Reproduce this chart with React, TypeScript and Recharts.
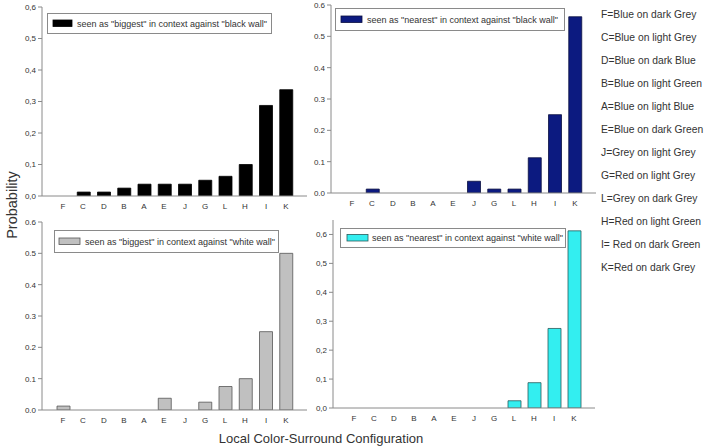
import React from 'react';
import { BarChart, Bar, XAxis, YAxis } from 'recharts';

const categories = ['F', 'C', 'D', 'B', 'A', 'E', 'J', 'G', 'L', 'H', 'I', 'K'];
const biggestBlackWall = [0, 0.0125, 0.0125, 0.025, 0.0375, 0.0375, 0.0375, 0.05, 0.0625, 0.1, 0.2875, 0.3375];
const nearestBlackWall = [0, 0.0125, 0, 0, 0, 0, 0.0375, 0.0125, 0.0125, 0.1125, 0.25, 0.5625];
const biggestWhiteWall = [0.0125, 0, 0, 0, 0, 0.0375, 0, 0.025, 0.075, 0.1, 0.25, 0.5];
const nearestWhiteWall = [0, 0, 0, 0, 0, 0, 0, 0, 0.025, 0.0875, 0.275, 0.6125];
const yTicks = [0, 0.1, 0.2, 0.3, 0.4, 0.5, 0.6];
const keyLabels = [
  'F=Blue on dark Grey',
  'C=Blue on light Grey',
  'D=Blue on dark Blue',
  'B=Blue on light Green',
  'A=Blue on light Blue',
  'E=Blue on dark Green',
  'J=Grey on light Grey',
  'G=Red on light Grey',
  'L=Grey on dark Grey',
  'H=Red on light Green',
  'I= Red on dark Green',
  'K=Red on dark Grey',
];
const legendTexts = [
  'seen as "biggest" in context against "black wall"',
  'seen as "nearest" in context against "black wall"',
  'seen as "biggest" in context against "white wall"',
  'seen as "nearest" in context against "white wall"',
];
const yTitle = 'Probability';
const xTitle = 'Local Color-Surround Configuration';

const FONT = '"Liberation Sans", Arial, sans-serif';
const FRAME = '#8a8a8a';
const TXT = '#333';

function CatTick(props: any) {
  const { x, y, payload } = props;
  return (
    <text x={Math.round(x)} y={Math.round(y) + 4} textAnchor="middle" dominantBaseline="central" fontSize={8} fill={TXT} fontFamily={FONT}>
      {payload.value}
    </text>
  );
}

type PanelProps = {
  left: number; top: number; right: number; bottom: number;
  values: number[]; fill: string; stroke: string; max: number; sep: string;
};

function Panel({ left, top, right, bottom, values, fill, stroke, max, sep }: PanelProps) {
  const YW = 42, XH = 20, MT = 6, MR = 4;
  const w = right - left + YW + MR;
  const h = bottom - top + MT + XH;
  const data = categories.map((c, i) => ({ cat: c, v: values[i] }));
  const fmt = (v: number) => v.toFixed(1).replace('.', sep);
  return (
    <div style={{ position: 'absolute', left: left - YW, top: top - MT, width: w, height: h }}>
      <BarChart width={w} height={h} data={data} margin={{ top: MT, right: MR, left: 0, bottom: 0 }}>
        <XAxis
          xAxisId="b"
          dataKey="cat"
          height={XH}
          padding={{ left: 11, right: 11 }}
          interval={0}
          tickLine={false}
          tickSize={4}
          axisLine={{ stroke: FRAME }}
          tick={<CatTick />}
        />
        <XAxis
          xAxisId="t"
          dataKey="cat"
          orientation="top"
          height={0}
          tick={false}
          tickLine={false}
          axisLine={{ stroke: FRAME }}
        />
        <YAxis
          yAxisId="l"
          width={YW}
          domain={[0, max]}
          ticks={yTicks}
          allowDataOverflow
          tickFormatter={fmt}
          tickSize={4}
          axisLine={{ stroke: FRAME }}
          tickLine={{ stroke: FRAME }}
          tick={{ fontSize: 8, fill: TXT, fontFamily: FONT }}
        />
        <YAxis
          yAxisId="r"
          orientation="right"
          width={0}
          domain={[0, max]}
          tick={false}
          tickLine={false}
          axisLine={{ stroke: FRAME }}
        />
        <Bar
          xAxisId="b"
          yAxisId="l"
          dataKey="v"
          fill={fill}
          stroke={stroke}
          strokeWidth={0.8}
          barSize={13}
          isAnimationActive={false}
        />
      </BarChart>
    </div>
  );
}

type LegendProps = { x: number; y: number; w: number; h: number; sx: number; sw: number; tx: number; fill: string; stroke: string; text: string };
function LegendBox({ x, y, w, h, sx, sw, tx, fill, stroke, text }: LegendProps) {
  const cy = y + h / 2;
  return (
    <g>
      <rect x={x + 0.5} y={y + 0.5} width={w} height={h} fill="#fff" stroke={FRAME} strokeWidth={1} />
      <rect x={sx} y={cy - 3} width={sw} height={6.5} fill={fill} stroke={stroke} strokeWidth={0.8} />
      <text x={tx} y={cy + 0.5} dominantBaseline="central" fontSize={9} fill={TXT} fontFamily={FONT}>{text}</text>
    </g>
  );
}

export default function App() {
  return (
    <div style={{ position: 'absolute', left: 0, top: 0, width: 705, height: 447, background: '#fff', fontFamily: FONT }}>
      <Panel left={42} top={7} right={307} bottom={196} values={biggestBlackWall} fill="#000000" stroke="#000" max={0.6} sep="," />
      <Panel left={331} top={5} right={596} bottom={193} values={nearestBlackWall} fill="#0c1a80" stroke="#0a0f40" max={0.6} sep="." />
      <Panel left={42} top={222} right={307} bottom={410} values={biggestWhiteWall} fill="#c0c0c0" stroke="#555" max={0.6} sep="." />
      <Panel left={333} top={220} right={595} bottom={408} values={nearestWhiteWall} fill="#33eef0" stroke="#2a5a5a" max={0.65} sep="," />
      <svg width={705} height={447} style={{ position: 'absolute', left: 0, top: 0, pointerEvents: 'none' }}>
        <LegendBox x={47} y={13} w={224} h={20} sx={53} sw={19} tx={77} fill="#000" stroke="#000" text={legendTexts[0]} />
        <LegendBox x={335} y={8} w={229} h={22} sx={341} sw={21} tx={367} fill="#0c1a80" stroke="#0a0f40" text={legendTexts[1]} />
        <LegendBox x={54} y={230} w={224} h={22} sx={59} sw={21} tx={85} fill="#c0c0c0" stroke="#555" text={legendTexts[2]} />
        <LegendBox x={340} y={228} w={225} h={19} sx={347} sw={21} tx={372} fill="#33eef0" stroke="#2a5a5a" text={legendTexts[3]} />
        <text x={12} y={205} transform="rotate(-90 12 205)" textAnchor="middle" dominantBaseline="central" fontSize={14.5} fill={TXT} fontFamily={FONT}>{yTitle}</text>
        <text x={321} y={438} textAnchor="middle" dominantBaseline="central" fontSize={13} fill={TXT} fontFamily={FONT}>{xTitle}</text>
        {keyLabels.map((k, i) => (
          <text key={k} x={601} y={14 + i * 23} dominantBaseline="central" fontSize={10.3} fill={TXT} fontFamily={FONT}>{k}</text>
        ))}
      </svg>
    </div>
  );
}
